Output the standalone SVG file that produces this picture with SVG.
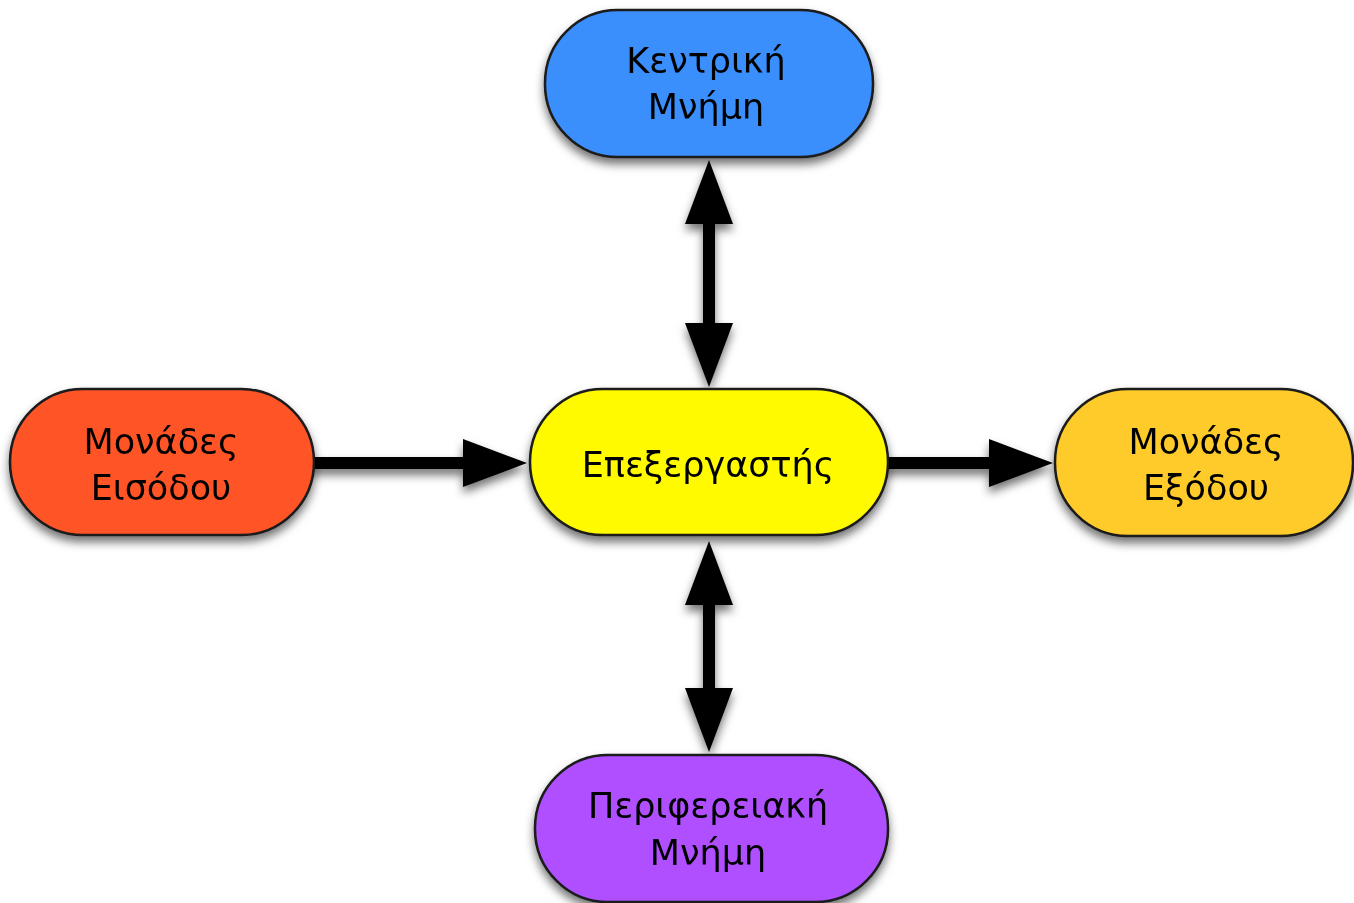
<svg xmlns="http://www.w3.org/2000/svg" width="1354" height="903" viewBox="0 0 1354 903">
<style>
.node rect{stroke:#1a1a1a;stroke-width:2.5}
.node text{font-family:"DejaVu Sans","Liberation Sans",sans-serif;font-size:35px;fill:#000;text-anchor:middle}
.conn path{stroke:#000;stroke-width:12;fill:none;stroke-linecap:round}
</style>
<defs>
<filter id="sh" x="-20%" y="-20%" width="140%" height="150%">
<feDropShadow dx="0" dy="6" stdDeviation="5" flood-color="#000" flood-opacity="0.55"/>
</filter>
<marker id="ah" viewBox="0 0 64 48" refX="10" refY="24" markerWidth="64" markerHeight="48" markerUnits="userSpaceOnUse" orient="auto-start-reverse">
<path d="M0,0 L64,24 L0,48 Z" fill="#000"/>
</marker>
</defs>
<rect width="1354" height="903" fill="#fff"/>
<g id="connectors" class="conn" filter="url(#sh)">
<path d="M709,214 L709,333" marker-start="url(#ah)" marker-end="url(#ah)"/>
<path d="M709,595 L709,698" marker-start="url(#ah)" marker-end="url(#ah)"/>
<path d="M314,463 L473,463" marker-end="url(#ah)"/>
<path d="M888,463 L999,463" marker-end="url(#ah)"/>
</g>
<g id="node-memory" class="node" filter="url(#sh)">
<rect x="545" y="10" width="328" height="147" rx="73" fill="#3a8ffd"/>
<text x="706" y="73">Κεντρική</text>
<text x="706" y="119">Μνήμη</text>
</g>
<g id="node-cpu" class="node" filter="url(#sh)">
<rect x="530" y="389" width="358" height="146" rx="73" fill="#fffa00"/>
<text x="708" y="477">Επεξεργαστής</text>
</g>
<g id="node-input" class="node" filter="url(#sh)">
<rect x="10" y="389" width="304" height="146" rx="73" fill="#ff5528"/>
<text x="161" y="454">Μονάδες</text>
<text x="161" y="500">Εισόδου</text>
</g>
<g id="node-output" class="node" filter="url(#sh)">
<rect x="1055" y="389" width="298" height="147" rx="73" fill="#ffcb2a"/>
<text x="1206" y="454">Μονάδες</text>
<text x="1206" y="500">Εξόδου</text>
</g>
<g id="node-storage" class="node" filter="url(#sh)">
<rect x="535" y="755" width="353" height="147" rx="73" fill="#b050ff"/>
<text x="708" y="818">Περιφερειακή</text>
<text x="708" y="865">Μνήμη</text>
</g>
</svg>
